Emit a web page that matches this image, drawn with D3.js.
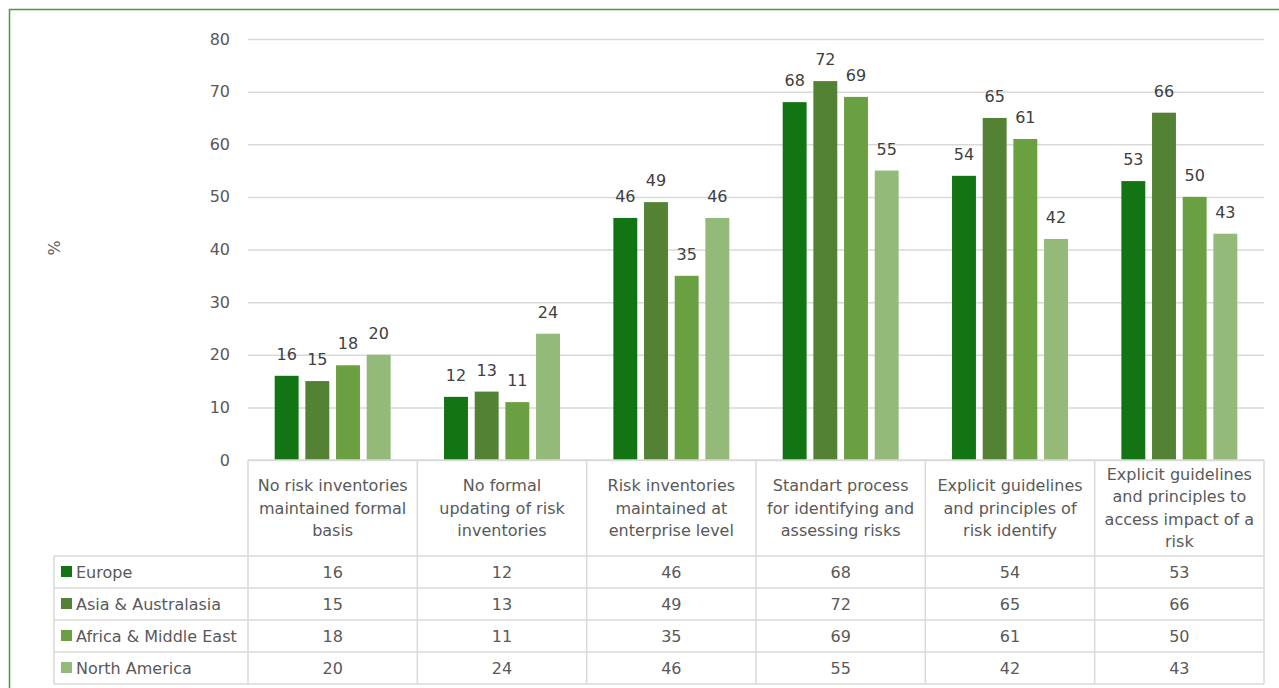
<!DOCTYPE html>
<html>
<head>
<meta charset="utf-8">
<script src="https://cdn.jsdelivr.net/npm/d3@7"></script>
<style>
	body { margin: 0; background: #fff; }
	svg { display: block; font-family: "DejaVu Sans", sans-serif; }
</style>
</head>
<body>
<script>
// categories (already split into the lines shown in the chart)
const categories = [
	["No risk inventories", "maintained formal", "basis"],
	["No formal", "updating of risk", "inventories"],
	["Risk inventories", "maintained at", "enterprise level"],
	["Standart process", "for identifying and", "assessing risks"],
	["Explicit guidelines", "and principles of", "risk identify"],
	["Explicit guidelines", "and principles to", "access impact of a", "risk"]
];
const seriesNames = ["Europe", "Asia & Australasia", "Africa & Middle East", "North America"];
const europe = [16, 12, 46, 68, 54, 53];
const asia = [15, 13, 49, 72, 65, 66];
const africa = [18, 11, 35, 69, 61, 50];
const northAmerica = [20, 24, 46, 55, 42, 43];
const yTicks = [0, 10, 20, 30, 40, 50, 60, 70, 80];
const colors = ["#137413", "#548235", "#6aa042", "#93ba79"];

const values = [europe, asia, africa, northAmerica];

var width = 1279, height = 688;
var plotLeft = 248, plotRight = 1264, plotTop = 39, plotBottom = 460;
var rowH = 32, headH = 96, tableLeft = 54;

var svg = d3.select("body").append("svg")
	.attr("width", width)
	.attr("height", height);

// outer frame
svg.append("rect")
	.attr("x", 9.5).attr("y", 9.5)
	.attr("width", width + 20).attr("height", height + 20)
	.attr("fill", "none")
	.attr("stroke", "#46993f")
	.attr("stroke-width", 1.5);

var x0 = d3.scaleBand()
	.domain(d3.range(categories.length))
	.range([plotLeft, plotRight]);
var x1 = d3.scaleBand()
	.domain(d3.range(seriesNames.length))
	.range([0, x0.bandwidth()])
	.paddingInner(0.22)
	.paddingOuter(0.87);
var y = d3.scaleLinear()
	.domain([0, 80])
	.range([plotBottom, plotTop]);

// gridlines
svg.append("g")
	.selectAll("line")
	.data(yTicks)
	.enter().append("line")
		.attr("x1", plotLeft).attr("x2", plotRight)
		.attr("y1", d => y(d) + 0.5).attr("y2", d => y(d) + 0.5)
		.attr("stroke", "#d9d9d9")
		.attr("stroke-width", 1.5);

// y axis labels
svg.append("g")
	.selectAll("text")
	.data(yTicks)
	.enter().append("text")
		.attr("x", 230)
		.attr("y", d => y(d))
		.attr("dy", "0.35em")
		.attr("text-anchor", "end")
		.attr("fill", "#595959")
		.style("font-size", "16px")
		.text(d => d);

svg.append("text")
	.attr("transform", "translate(60,248) rotate(-90)")
	.attr("text-anchor", "middle")
	.attr("fill", "#595959")
	.style("font-size", "16px")
	.text("%");

// bars
var groups = svg.append("g")
	.selectAll("g")
	.data(values)
	.enter().append("g")
		.attr("fill", (d, i) => colors[i]);

groups.selectAll("rect")
	.data((d, s) => d.map((v, c) => ({v: v, c: c, s: s})))
	.enter().append("rect")
		.attr("x", d => x0(d.c) + x1(d.s))
		.attr("width", x1.bandwidth())
		.attr("y", d => y(d.v))
		.attr("height", d => plotBottom - y(d.v));

// value labels
groups.selectAll("text")
	.data((d, s) => d.map((v, c) => ({v: v, c: c, s: s})))
	.enter().append("text")
		.attr("x", d => x0(d.c) + x1(d.s) + x1.bandwidth() / 2)
		.attr("y", d => y(d.v) - 16)
		.attr("text-anchor", "middle")
		.attr("fill", "#404040")
		.style("font-size", "16px")
		.text(d => d.v);

// data table
var grid = svg.append("g").attr("stroke", "#d9d9d9").attr("stroke-width", 1.5);
var tableBottom = plotBottom + headH + rowH * seriesNames.length;
// horizontal lines
grid.append("line")
	.attr("x1", plotLeft).attr("x2", plotRight)
	.attr("y1", plotBottom).attr("y2", plotBottom);
d3.range(seriesNames.length + 1).forEach(r => {
	grid.append("line")
		.attr("x1", tableLeft).attr("x2", plotRight)
		.attr("y1", plotBottom + headH + r * rowH).attr("y2", plotBottom + headH + r * rowH);
});
// vertical lines
grid.append("line")
	.attr("x1", tableLeft).attr("x2", tableLeft)
	.attr("y1", plotBottom + headH).attr("y2", tableBottom);
d3.range(categories.length + 1).forEach(c => {
	var xx = c < categories.length ? x0(c) : plotRight;
	grid.append("line")
		.attr("x1", xx).attr("x2", xx)
		.attr("y1", plotBottom).attr("y2", tableBottom);
});

// category labels
svg.append("g")
	.selectAll("text")
	.data(categories)
	.enter().append("text")
		.attr("text-anchor", "middle")
		.attr("fill", "#595959")
		.style("font-size", "16px")
		.each(function(lines, c) {
			var lh = 22.3;
			var y0 = plotBottom + headH / 2 - (lines.length - 1) * lh / 2;
			d3.select(this).selectAll("tspan")
				.data(lines)
				.enter().append("tspan")
					.attr("x", x0(c) + x0.bandwidth() / 2)
					.attr("y", (d, i) => y0 + i * lh)
					.attr("dy", "0.35em")
					.text(d => d);
		});

// table rows
var rows = svg.append("g")
	.selectAll("g")
	.data(values)
	.enter().append("g")
		.attr("transform", (d, i) => "translate(0," + (plotBottom + headH + i * rowH + rowH / 2) + ")");

rows.append("rect")
	.attr("x", 61).attr("y", -6)
	.attr("width", 11).attr("height", 11)
	.attr("fill", (d, i) => colors[i]);

rows.append("text")
	.attr("x", 76)
	.attr("dy", "0.35em")
	.attr("fill", "#595959")
	.style("font-size", "16px")
	.text((d, i) => seriesNames[i]);

rows.selectAll(".val")
	.data(d => d)
	.enter().append("text")
		.attr("class", "val")
		.attr("x", (d, c) => x0(c) + x0.bandwidth() / 2)
		.attr("dy", "0.35em")
		.attr("text-anchor", "middle")
		.attr("fill", "#595959")
		.style("font-size", "16px")
		.text(d => d);
</script>
</body>
</html>
